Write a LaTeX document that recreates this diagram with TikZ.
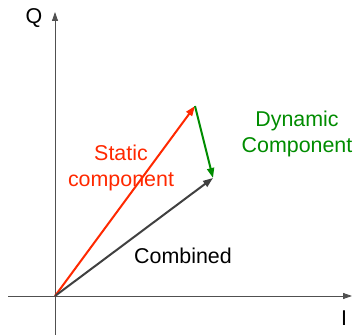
\documentclass[tikz,border=0pt]{standalone}
\usepackage{fontspec}
\setmainfont{Liberation Sans}
\usetikzlibrary{arrows.meta}
\definecolor{redv}{RGB}{255,40,0}
\definecolor{greenv}{RGB}{0,140,0}
\definecolor{grayv}{RGB}{64,64,64}
\definecolor{axisc}{RGB}{80,80,80}
\begin{document}
\begin{tikzpicture}[x=1bp,y=1bp,
  axis/.style={draw=axisc,line width=0.8bp,-{Triangle[length=9bp,width=6bp]}},
  vec/.style={line width=2bp,-{Triangle[length=10bp,width=7bp]}},
  lbl/.style={font=\fontsize{21.5}{27}\selectfont,align=center,inner sep=0pt}]
\useasboundingbox (0,0) rectangle (360,335);
\coordinate (O) at (55,39);
\coordinate (xs) at (8,39);
\coordinate (xe) at (352,39);
\coordinate (ys) at (55,0);
\coordinate (ye) at (55,323);
\coordinate (P) at (195,229);
\coordinate (R) at (213,157);
\draw[axis] (xs) -- (xe);
\draw[axis] (ys) -- (ye);
\node[lbl] (Q) at (34,317) {Q};
\node[lbl] (I) at (344,17) {I};
\draw[vec,redv] (O) -- (P);
\draw[vec,greenv] (P) -- (R);
\draw[vec,grayv] (O) -- (R);
\node[lbl,text=redv] (st) at (121,167) {Static\\component};
\node[lbl,text=greenv] (dy) at (297,201) {Dynamic\\Component};
\node[lbl] (cb) at (183,79) {Combined};
\end{tikzpicture}
\end{document}
